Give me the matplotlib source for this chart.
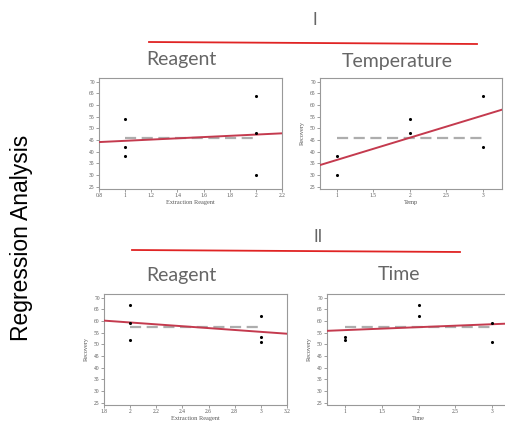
"""Regression analysis panels: recovery vs. reagent / temperature / time."""

import matplotlib.pyplot as plt
import numpy as np

# %% Data
# Panel I - reagent
reagent1_x = [1, 1, 1, 2, 2, 2]
reagent1_y = [54, 42, 38, 64, 48, 30]
# Panel I - temperature
temp_x = [1, 1, 2, 2, 3, 3]
temp_y = [38, 30, 54, 48, 64, 42]
# Panel II - reagent
reagent2_x = [2, 2, 2, 3, 3, 3]
reagent2_y = [67, 59, 52, 62, 53, 51]
# Panel II - time
time_x = [1, 1, 2, 2, 3, 3]
time_y = [53, 52, 67, 62, 59, 51]

reagent1_ticks = [0.8, 1, 1.2, 1.4, 1.6, 1.8, 2, 2.2]
reagent1_ticklabels = ["0.8", "1", "1.2", "1.4", "1.6", "1.8", "2", "2.2"]
temp_ticks = [1, 1.5, 2, 2.5, 3]
temp_ticklabels = ["1", "1.5", "2", "2.5", "3"]
reagent2_ticks = [1.8, 2, 2.2, 2.4, 2.6, 2.8, 3, 3.2]
reagent2_ticklabels = ["1.8", "2", "2.2", "2.4", "2.6", "2.8", "3", "3.2"]
y_ticks = [25, 30, 35, 40, 45, 50, 55, 60, 65, 70]

W, H = 506, 421
RED_FIT = "#c43a4e"
RED_RULE = "#e02424"
GREY_TXT = "#555555"
SERIF = ["Liberation Serif", "DejaVu Serif"]


def px_axes(fig, x0, y0, x1, y1):
    """Add axes given pixel box (top-left origin)."""
    return fig.add_axes([x0 / W, 1 - y1 / H, (x1 - x0) / W, (y1 - y0) / H])


def panel(ax, x, y, xlim, ticks, ticklabels, xlabel, ylabel=True):
    x = np.asarray(x, dtype=float)
    y = np.asarray(y, dtype=float)
    slope, intercept = np.polyfit(x, y, 1)
    xs = np.array(xlim)
    ax.plot([x.min(), x.max()], [y.mean()] * 2, color="#adadad",
            lw=1.6, dashes=(5, 2.5), zorder=2)
    ax.plot(xs, slope * xs + intercept, color=RED_FIT, lw=1.4, zorder=3)
    ax.scatter(x, y, s=5, color="black", zorder=4, linewidths=0)

    ax.set_xlim(*xlim)
    ax.set_ylim(24.3, 71.5)
    ax.set_xticks(ticks, ticklabels)
    ax.set_yticks(y_ticks)
    ax.tick_params(labelsize=4, colors="#777777", labelcolor=GREY_TXT,
                   length=2, width=0.5, pad=1)
    for lab in ax.get_xticklabels() + ax.get_yticklabels():
        lab.set_family(SERIF)
    for s in ax.spines.values():
        s.set_color("#999999")
        s.set_linewidth(0.8)
    ax.set_xlabel(xlabel, fontsize=4.5, family=SERIF, color=GREY_TXT,
                  labelpad=1.5)
    if ylabel:
        ax.set_ylabel("Recovery", fontsize=4.5, family=SERIF,
                      color=GREY_TXT, labelpad=4)


fig = plt.figure(figsize=(W / 100, H / 100), dpi=100)
fig.patch.set_facecolor("white")

ax1 = px_axes(fig, 99, 78, 282, 188.5)
panel(ax1, reagent1_x, reagent1_y, (0.8, 2.2), reagent1_ticks,
      reagent1_ticklabels, "Extraction Reagent", ylabel=False)

ax2 = px_axes(fig, 320, 78, 502, 188.5)
panel(ax2, temp_x, temp_y, (0.77, 3.26), temp_ticks, temp_ticklabels, "Temp")

ax3 = px_axes(fig, 104, 294, 287, 404.5)
panel(ax3, reagent2_x, reagent2_y, (1.8, 3.2), reagent2_ticks,
      reagent2_ticklabels, "Extraction Reagent")

ax4 = px_axes(fig, 327, 294, 510, 404.5)
panel(ax4, time_x, time_y, (0.75, 3.25), temp_ticks, temp_ticklabels, "Time")

# %% Headings
head = dict(family=["Lato", "DejaVu Sans"], color="#666666",
            ha="center", va="center")
fig.text(315 / W, 1 - 20 / H, "I", fontsize=12, **head)
fig.text(181 / W, 1 - 60 / H, "Reagent", fontsize=14, **head)
fig.text(397 / W, 1 - 61 / H, "Temperature", fontsize=14, **head)
fig.text(318 / W, 1 - 237 / H, "II", fontsize=12, **head)
fig.text(181 / W, 1 - 275 / H, "Reagent", fontsize=14, **head)
fig.text(399 / W, 1 - 275 / H, "Time", fontsize=14, **head)

fig.add_artist(plt.Line2D([149 / W, 477 / W], [1 - 42 / H, 1 - 44 / H],
                          color=RED_RULE, lw=1.3))
fig.add_artist(plt.Line2D([132 / W, 460 / W], [1 - 250 / H, 1 - 252 / H],
                          color=RED_RULE, lw=1.3))

fig.text(22 / W, 1 - 238 / H, "Regression Analysis", rotation=90,
         fontsize=16.5, family=["Liberation Sans", "DejaVu Sans"],
         color="black", ha="center", va="center")

fig.savefig("out.png", dpi=100)
